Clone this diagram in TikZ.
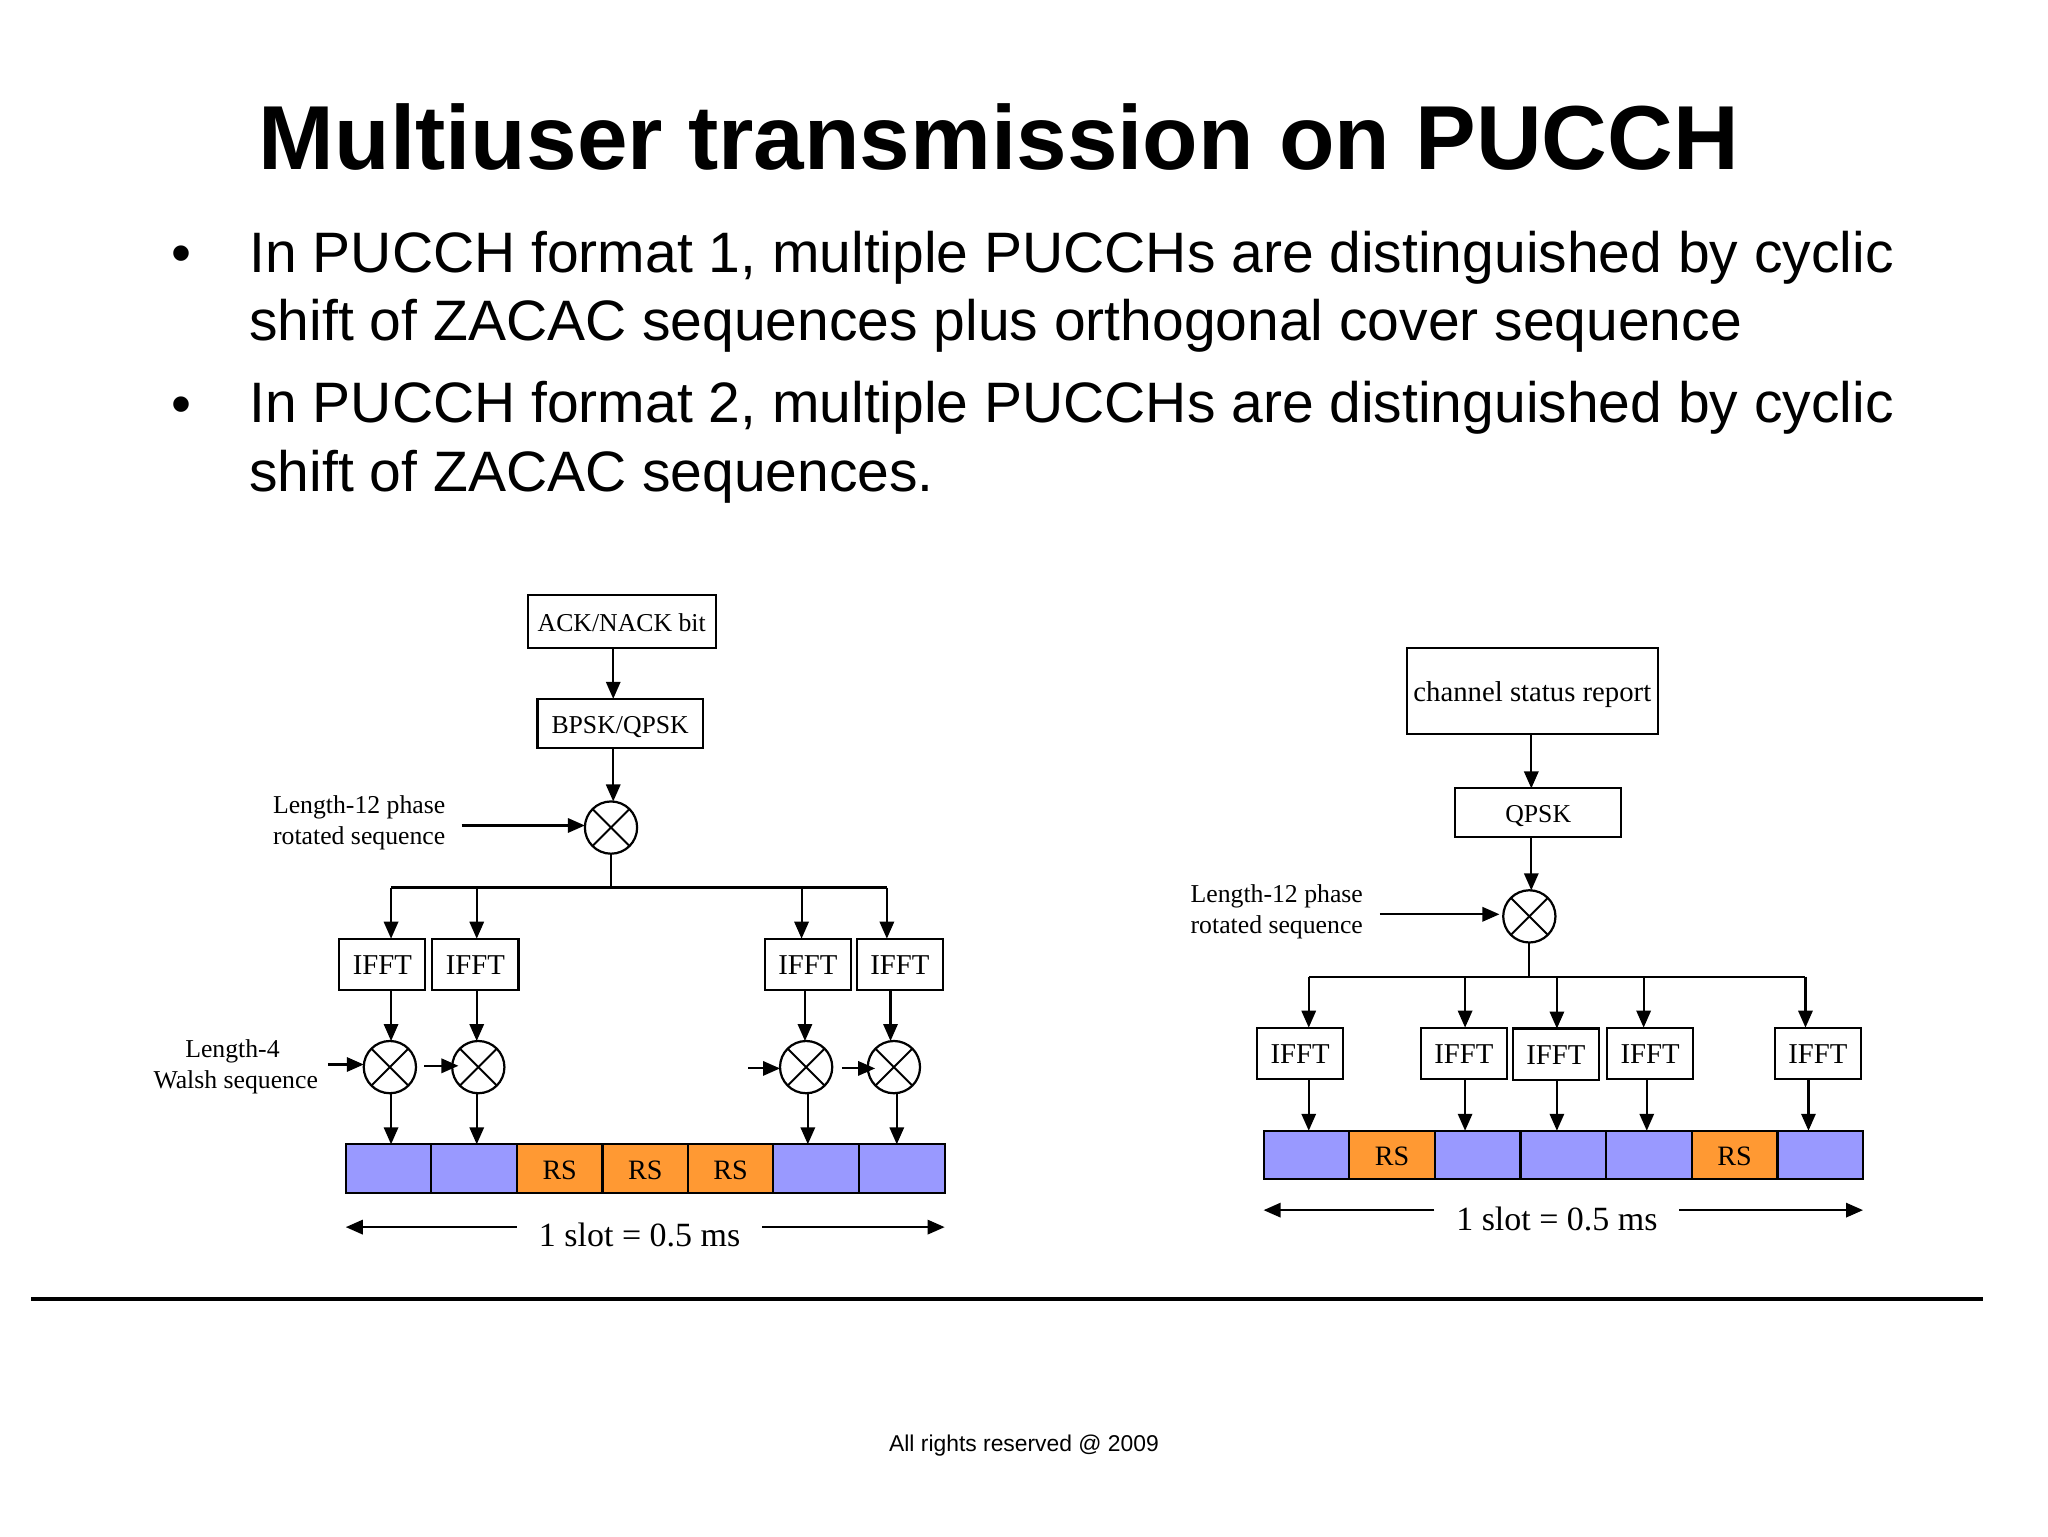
\documentclass[tikz,border=0pt]{standalone}
\usepackage{fontspec}
\setmainfont{Liberation Serif}
\newfontfamily\arialf{Liberation Sans}
\usetikzlibrary{arrows.meta}
\definecolor{slotblue}{HTML}{9999FF}
\definecolor{slotorange}{HTML}{FF9933}
\newcommand{\fs}[2]{\fontsize{#1}{#2}\selectfont}
\tikzset{
  box/.style={draw=black,line width=1.6pt,fill=white,inner sep=0pt,outer sep=0pt,font=\fs{19.7}{24},text height=20pt,text depth=5pt},
  ifftbox/.style={box,minimum width=66,minimum height=39.5,font=\fs{22}{25}},
  mixer/.style={circle,draw=black,line width=1.7pt,fill=white,minimum size=40,inner sep=0pt,outer sep=0pt,
    path picture={\draw[line width=1.5pt] (path picture bounding box.south west)--(path picture bounding box.north east)
      (path picture bounding box.north west)--(path picture bounding box.south east);}},
  slotb/.style={draw=black,line width=1.6pt,fill=slotblue,minimum width=65.5,minimum height=37.2,inner sep=0pt,outer sep=0pt},
  slotr/.style={slotb,fill=slotorange,font=\fs{21.5}{24},text height=21pt,text depth=4.4pt},
  arr/.style={line width=1.6pt,-{Triangle[length=13pt,width=11pt]}},
  lnk/.style={line width=1.6pt},
  lab/.style={inner sep=0pt,outer sep=0pt,align=center,font=\fs{19.7}{24}},
  span/.style={inner sep=0pt,outer sep=0pt,font=\fs{26}{28}},
  bul/.style={inner sep=0pt,outer sep=0pt,anchor=base west,font=\arialf\fs{43.65}{52.3},align=left},
}
\begin{document}
\begin{tikzpicture}[x=1pt,y=-1pt]
\useasboundingbox (0,0) rectangle (1568,1176);
\fill[white] (0,0) rectangle (1568,1176);
% header text
\node[inner sep=0pt,anchor=base west,font=\arialf\bfseries\fs{69.6}{75}] (title) at (198,130) {Multiuser transmission on PUCCH};
\node[bul] (b1) at (131,209) {•};
\node[bul] (t1) at (191,261) {In PUCCH format 1, multiple PUCCHs are distinguished by cyclic\\shift of ZACAC sequences plus orthogonal cover sequence};
\node[bul] (b2) at (131,324) {•};
\node[bul] (t2) at (191,376) {In PUCCH format 2, multiple PUCCHs are distinguished by cyclic\\shift of ZACAC sequences.};
% footer
\coordinate (ruleL) at (24,994.5);
\coordinate (ruleR) at (1518,994.5);
\draw[line width=2.6pt] (ruleL)--(ruleR);
\node[inner sep=0pt,font=\arialf\fs{17.5}{20}] (foot) at (784,1107) {All rights reserved @ 2009};

%%% left diagram
\node[box,minimum width=144,minimum height=40.3] (ack) at (476,476) {ACK/NACK bit};
\node[box,minimum width=126.5,minimum height=38] (bpsk) at (474.8,554) {BPSK/QPSK};
\node[mixer] (mx) at (467.8,633.6) {};
\node[lab] (len12) at (275,630) {Length-12 phase\\rotated sequence};
\coordinate (len12s) at (353.5,632);
\coordinate (c0) at (469.5,0);
\draw[arr] (ack.south -| c0)--(bpsk.north -| c0);
\draw[arr] (bpsk.south -| c0)--(c0 |- mx.north);
\draw[arr] (len12s)--(445.5,632 -| mx.west);
\coordinate (busy) at (0,679.5);
\coordinate (cA) at (299.4,0);\coordinate (cB) at (365,0);\coordinate (cC) at (613.7,0);\coordinate (cD) at (679,0);
\draw[lnk] (mx.south)--(mx.south |- busy);
\draw[lnk] (cA |- busy)--(cD |- busy);
\node[ifftbox] (ia) at (292.7,738.4) {IFFT};
\node[ifftbox] (ib) at (364,738.4) {IFFT};
\node[ifftbox] (ic) at (618.5,738.4) {IFFT};
\node[ifftbox] (id) at (689,738.4) {IFFT};
\foreach \c/\n in {cA/ia,cB/ib,cC/ic,cD/id} \draw[arr] (\c |- busy)--(\c |- \n.north);
\node[mixer] (ma) at (298.5,817) {};
\node[mixer] (mb) at (366.2,817) {};
\node[mixer] (mc) at (617.2,817) {};
\node[mixer] (md) at (684.4,817) {};
\coordinate (dA) at (299.4,0);\coordinate (dB) at (365,0);\coordinate (dC) at (616.3,0);\coordinate (dD) at (681.8,0);
\foreach \c/\n/\m in {dA/ia/ma,dB/ib/mb,dC/ic/mc,dD/id/md} \draw[arr] (\c |- \n.south)--(\c |- \m.north);
\node[lab] (walsh) at (180.5,817) {Length-4\hspace*{5pt}\\Walsh sequence};
\coordinate (wa) at (251,815);\coordinate (wb) at (325,816);\coordinate (wc) at (573,818);\coordinate (wd) at (644.5,818);
\draw[arr] (wa)--(ma.west |- wa);
\draw[arr] (wb)--(351,816);
\draw[arr] (wc)--(mc.west |- wc);
\draw[arr] (wd)--(670,818);
\node[slotb] (s1) at (297.5,894.7) {};
\node[slotb] (s2) at (363,894.7) {};
\node[slotr] (s3) at (428.5,894.7) {RS};
\node[slotr] (s4) at (494,894.7) {RS};
\node[slotr] (s5) at (559.4,894.7) {RS};
\node[slotb] (s6) at (624.9,894.7) {};
\node[slotb] (s7) at (690.5,894.7) {};
\coordinate (eA) at (299.4,0);\coordinate (eB) at (365,0);\coordinate (eC) at (618.5,0);\coordinate (eD) at (686.6,0);
\foreach \c/\m/\s in {eA/ma/s1,eB/mb/s2,eC/mc/s6,eD/md/s7} \draw[arr] (\c |- \m.south)--(\c |- \s.north);
\node[span] (sp) at (489.7,945.5) {1 slot = 0.5 ms};
\coordinate (spl) at (395.7,939.5);\coordinate (spr) at (583.4,939.5);
\draw[arr] (spl)--(s1.west |- spl);
\draw[arr] (spr)--(s7.east |- spr);

%%% right diagram
\node[box,minimum width=192.3,minimum height=66,font=\fs{22}{24}] (csr) at (1173.2,529.3) {channel status report};
\node[box,minimum width=127,minimum height=37] (qpsk) at (1177.7,622.1) {QPSK};
\node[mixer] (rm) at (1170.9,701.6) {};
\node[lab] (rlen) at (977.5,698) {Length-12 phase\\rotated sequence};
\coordinate (rlens) at (1056.4,700);
\coordinate (r0) at (1172.4,0);
\draw[arr] (csr.south -| r0)--(qpsk.north -| r0);
\draw[arr] (qpsk.south -| r0)--(r0 |- rm.north);
\draw[arr] (rlens)--(1148,700);
\coordinate (rbus) at (0,747.7);
\coordinate (fA) at (1002,0);\coordinate (fB) at (1121.7,0);\coordinate (fC) at (1192,0);\coordinate (fD) at (1258.4,0);\coordinate (fE) at (1382.3,0);
\draw[lnk] (rm.south)--(rm.south |- rbus);
\draw[lnk] (fA |- rbus)--(fE |- rbus);
\node[ifftbox] (ra) at (995.4,806.5) {IFFT};
\node[ifftbox] (rb) at (1120.7,806.5) {IFFT};
\node[ifftbox] (rc) at (1191.2,807.2) {IFFT};
\node[ifftbox] (rd) at (1263.3,806.5) {IFFT};
\node[ifftbox] (re) at (1391.8,806.5) {IFFT};
\foreach \c/\n in {fA/ra,fB/rb,fC/rc,fD/rd,fE/re} \draw[arr] (\c |- rbus)--(\c |- \n.north);
\node[slotb] (q1) at (1000.2,884.3) {};
\node[slotr] (q2) at (1065.8,884.3) {RS};
\node[slotb] (q3) at (1131.4,884.3) {};
\node[slotb] (q4) at (1197,884.3) {};
\node[slotb] (q5) at (1262.6,884.3) {};
\node[slotr] (q6) at (1328,884.3) {RS};
\node[slotb] (q7) at (1393.6,884.3) {};
\coordinate (gA) at (1002,0);\coordinate (gB) at (1121.7,0);\coordinate (gC) at (1192,0);\coordinate (gD) at (1260.8,0);\coordinate (gE) at (1384.6,0);
\foreach \c/\n/\s in {gA/ra/q1,gB/rb/q3,gC/rc/q4,gD/rd/q5,gE/re/q7} \draw[arr] (\c |- \n.south)--(\c |- \s.north);
\node[span] (rsp) at (1192,933) {1 slot = 0.5 ms};
\coordinate (rspl) at (1098.2,926.5);\coordinate (rspr) at (1285.8,926.5);
\draw[arr] (rspl)--(q1.west |- rspl);
\draw[arr] (rspr)--(q7.east |- rspr);
\end{tikzpicture}
\end{document}
